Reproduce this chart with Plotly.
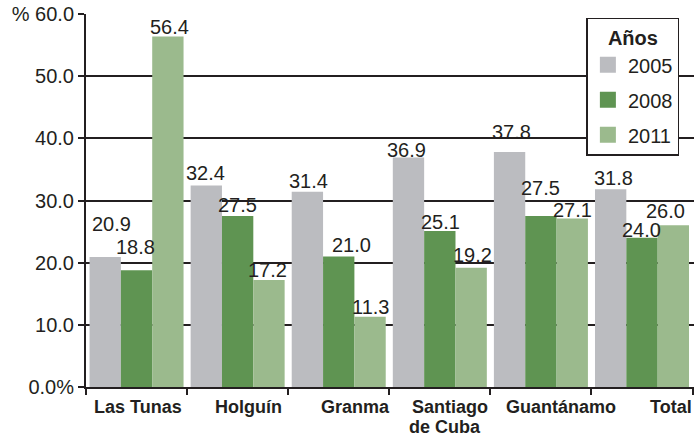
import plotly.graph_objects as go

categories = ["Las Tunas", "Holguín", "Granma", "Santiago<br>de Cuba", "Guantánamo", "Total"]
years = ["2005", "2008", "2011"]
v2005 = [20.9, 32.4, 31.4, 36.9, 37.8, 31.8]
v2008 = [18.8, 27.5, 21.0, 25.1, 27.5, 24.0]
v2011 = [56.4, 17.2, 11.3, 19.2, 27.1, 26.0]
ytickvals = [0, 10, 20, 30, 40, 50, 60]
yticktext = ["0.0%", "10.0", "20.0", "30.0", "40.0", "50.0", "% 60.0"]

# ---- styling ----
colors = ["#bbbcc0", "#5f9452", "#9bba8d"]
INK = "#231f20"
W, H = 697, 436
ML, MR, MT, MB = 86, 3, 14, 49
BARGAP = 0.07
# label nudges (dx, dy in px) as placed in the original layout
label_dx = [[6, -1, 1, -2, 2, 3], [-1, 0, 13, 1, 0, -1], [2, -2, 0, 1, 0, -8]]
label_dy = [[33, 13, 11, 8, 20, 11], [23, 11, 11, 9, 28, 8], [9, 10, 10, 13, 9, 14]]
# category label nudges (px right of category centre), per line
cat_dx = [[1], [11], [17], [10, 5], [20], [29]]
CAT_TOP = -8      # px below axis for first-line box top
CAT_LINE = 20     # line spacing px

cat_px = (W - ML - MR) / len(categories)
bar_px = cat_px * (1 - BARGAP) / len(years)

fig = go.Figure()
for name, vals, col in zip(years, [v2005, v2008, v2011], colors):
    fig.add_trace(go.Bar(
        x=categories, y=vals, name=name, showlegend=False,
        marker=dict(color=col, line=dict(width=0)),
    ))
# legend entries with large square swatches
for name, col in zip(years, colors):
    fig.add_trace(go.Scatter(
        x=[None], y=[None], mode="markers", name=name, legendgroup=name,
        marker=dict(symbol="square", size=22, color=col),
        showlegend=True,
    ))

annotations = []
for si, vals in enumerate([v2005, v2008, v2011]):
    for ci, v in enumerate(vals):
        annotations.append(dict(
            x=categories[ci], y=v, xref="x", yref="y", text=f"{v:.1f}",
            showarrow=False, xanchor="center", yanchor="middle",
            xshift=(si - 1) * bar_px + label_dx[si][ci], yshift=label_dy[si][ci],
            font=dict(size=20, color=INK),
        ))
for ci, c in enumerate(categories):
    for li, line in enumerate(c.split("<br>")):
        annotations.append(dict(
            x=c, y=0, xref="x", yref="y", text=f"<b>{line}</b>",
            showarrow=False, xanchor="center", yanchor="top",
            xshift=cat_dx[ci][li], yshift=CAT_TOP - li * CAT_LINE,
            font=dict(size=18, color=INK),
        ))

fig.update_layout(
    width=W, height=H,
    margin=dict(l=ML, r=MR, t=MT, b=MB, autoexpand=False),
    paper_bgcolor="white", plot_bgcolor="white",
    font=dict(family="Liberation Sans, Arial, sans-serif", color=INK),
    barmode="group", bargap=BARGAP, bargroupgap=0,
    annotations=annotations,
    legend=dict(
        title=dict(text="<b>Años</b>", font=dict(size=20), side="top center"),
        x=0.823, y=0.99, xanchor="left", yanchor="top",
        bgcolor="white", bordercolor=INK, borderwidth=1.5,
        font=dict(size=20), tracegroupgap=6, itemwidth=30, itemsizing="trace",
    ),
)
fig.update_xaxes(
    showline=True, linecolor=INK, linewidth=2, automargin=False,
    ticks="outside", tickson="boundaries", ticklen=6, tickcolor=INK, tickwidth=1.5,
    showticklabels=False, showgrid=False,
)
fig.update_yaxes(
    range=[0, 60], tickvals=ytickvals, ticktext=yticktext, automargin=False,
    showline=True, linecolor=INK, linewidth=2,
    ticks="outside", ticklen=6, tickcolor=INK, tickwidth=2,
    showgrid=True, gridcolor=INK, gridwidth=2,
    tickfont=dict(size=20, color=INK), zeroline=False,
)

fig.write_html("out.html")
